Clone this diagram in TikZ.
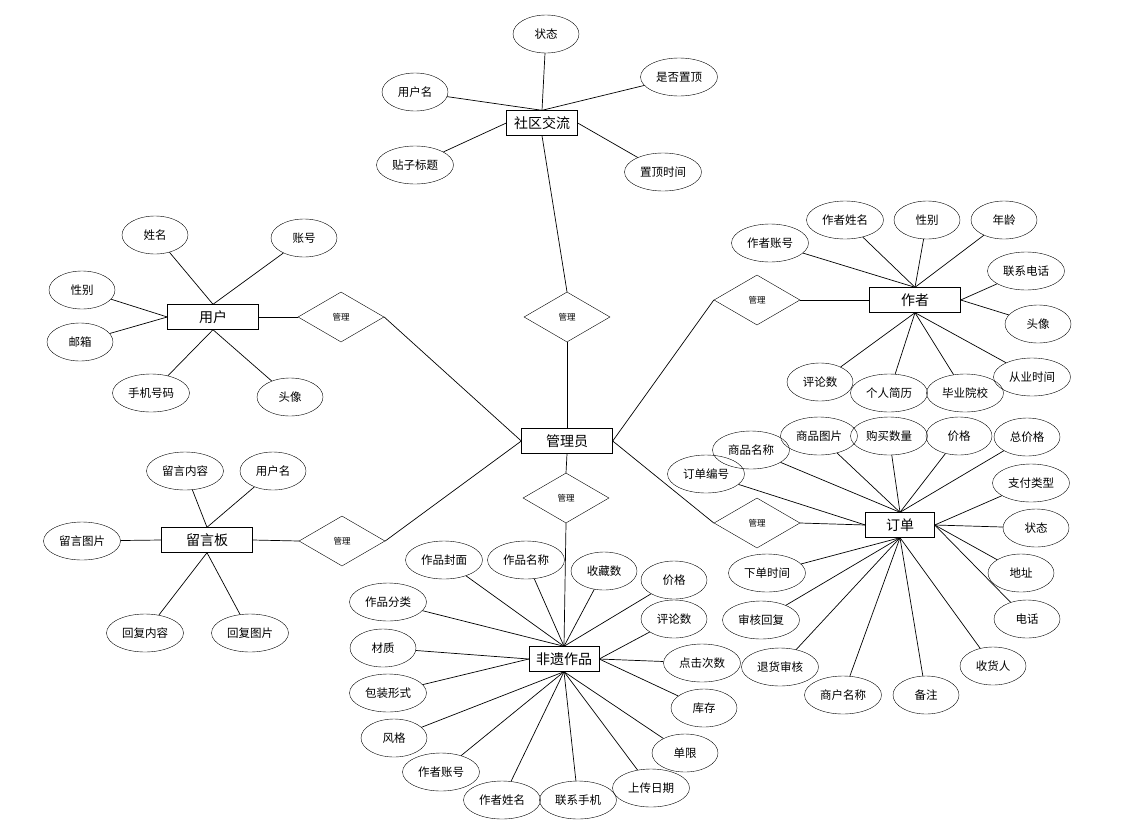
\documentclass[tikz,border=0pt]{standalone}
\usepackage{fontspec}
\newfontfamily\cjk{Noto Sans CJK SC}
\usetikzlibrary{shapes.geometric}

\tikzset{
  attr/.style={ellipse, draw, inner sep=0pt, minimum width=66pt, minimum height=38pt,
    font=\cjk\fontsize{11.5}{13}\selectfont},
  wide/.style={minimum width=77pt},
  ent/.style={rectangle, draw, inner sep=0pt, minimum width=91pt, minimum height=25pt,
    font=\cjk\fontsize{14}{16}\selectfont},
  rel/.style={diamond, draw, inner sep=0pt, minimum width=86pt, minimum height=50pt,
    font=\cjk\fontsize{8.5}{10}\selectfont},
  link/.style={line width=0.7pt},
}

\begin{document}
\begin{tikzpicture}[x=1pt, y=-1pt]
    \useasboundingbox (0,0) rectangle (1134,827);

    % Draw nodes for entities and relations
    \node[ent] (admin) at (567,441) {管理员};
    \node[ent, minimum width=71pt] (post) at (542,123) {社区交流};
    \node[ent] (user) at (213,317) {用户};
    \node[ent] (board) at (207,540) {留言板};
    \node[ent] (author) at (915,300) {作者};
    \node[ent, minimum width=69pt] (order) at (900,525) {订单};
    \node[ent, minimum width=70pt] (work) at (564,659) {非遗作品};

    \node[rel] (mPost) at (567,317) {管理};
    \node[rel] (mUser) at (341,317) {管理};
    \node[rel] (mBoard) at (342,541) {管理};
    \node[rel] (mAuthor) at (757,300) {管理};
    \node[rel] (mOrder) at (757,523) {管理};
    \node[rel] (mWork) at (566,498) {管理};

    % Draw nodes for 社区交流
    \node[attr] (p1) at (415,92) {用户名};
    \node[attr] (p2) at (546,34) {状态};
    \node[attr, wide] (p3) at (679,77) {是否置顶};
    \node[attr, wide] (p4) at (415,165) {贴子标题};
    \node[attr, wide] (p5) at (663,172) {置顶时间};

    % Draw nodes for 用户
    \node[attr] (u1) at (155,235) {姓名};
    \node[attr] (u2) at (304,238) {账号};
    \node[attr] (u3) at (82,290) {性别};
    \node[attr] (u4) at (80,342) {邮箱};
    \node[attr, wide] (u5) at (151,393) {手机号码};
    \node[attr] (u6) at (290,397) {头像};

    % Draw nodes for 留言板
    \node[attr, wide] (b1) at (185,471) {留言内容};
    \node[attr] (b2) at (273,471) {用户名};
    \node[attr, wide] (b3) at (82,541) {留言图片};
    \node[attr, wide] (b4) at (145,633) {回复内容};
    \node[attr, wide] (b5) at (250,633) {回复图片};

    % Draw nodes for 作者
    \node[attr, wide] (a1) at (770,243) {作者账号};
    \node[attr, wide] (a2) at (845,220) {作者姓名};
    \node[attr] (a3) at (927,220) {性别};
    \node[attr] (a4) at (1004,220) {年龄};
    \node[attr, wide] (a5) at (1026,271) {联系电话};
    \node[attr] (a6) at (1038,324) {头像};
    \node[attr] (a7) at (820,382) {评论数};
    \node[attr, wide] (a8) at (889,393) {个人简历};
    \node[attr, wide] (a9) at (965,393) {毕业院校};
    \node[attr, wide] (a10) at (1032,377) {从业时间};

    % Draw nodes for 订单
    \node[attr, wide] (o1) at (706,474) {订单编号};
    \node[attr, wide] (o2) at (751,450) {商品名称};
    \node[attr, wide] (o3) at (819,436) {商品图片};
    \node[attr, wide] (o4) at (889,436) {购买数量};
    \node[attr] (o5) at (959,436) {价格};
    \node[attr] (o6) at (1027,437) {总价格};
    \node[attr, wide] (o7) at (1031,483) {支付类型};
    \node[attr] (o8) at (1036,528) {状态};
    \node[attr] (o9) at (1021,573) {地址};
    \node[attr] (o10) at (1027,619) {电话};
    \node[attr] (o11) at (993,666) {收货人};
    \node[attr] (o12) at (926,695) {备注};
    \node[attr, wide] (o13) at (843,695) {商户名称};
    \node[attr, wide] (o14) at (780,667) {退货审核};
    \node[attr, wide] (o15) at (761,620) {审核回复};
    \node[attr, wide] (o16) at (767,573) {下单时间};

    % Draw nodes for 非遗作品
    \node[attr, wide] (w1) at (444,560) {作品封面};
    \node[attr, wide] (w2) at (526,560) {作品名称};
    \node[attr] (w3) at (604,571) {收藏数};
    \node[attr] (w4) at (674,580) {价格};
    \node[attr] (w5) at (674,619) {评论数};
    \node[attr, wide] (w6) at (702,663) {点击次数};
    \node[attr] (w7) at (704,708) {库存};
    \node[attr] (w8) at (685,753) {单限};
    \node[attr, wide] (w9) at (651,788) {上传日期};
    \node[attr, wide] (w10) at (578,800) {联系手机};
    \node[attr, wide] (w11) at (502,800) {作者姓名};
    \node[attr, wide] (w12) at (441,772) {作者账号};
    \node[attr] (w13) at (394,738) {风格};
    \node[attr, wide] (w14) at (388,693) {包装形式};
    \node[attr] (w15) at (383,648) {材质};
    \node[attr, wide] (w16) at (388,602) {作品分类};

    % Draw edges between entities and relations
    \draw[link] (post.south) -- (mPost.north);
    \draw[link] (mPost.south) -- (admin.north);
    \draw[link] (user.east) -- (mUser.west);
    \draw[link] (mUser.east) -- (admin.west);
    \draw[link] (board.east) -- (mBoard.west);
    \draw[link] (mBoard.east) -- (admin.west);
    \draw[link] (author.west) -- (mAuthor.east);
    \draw[link] (mAuthor.west) -- (admin.east);
    \draw[link] (order.west) -- (mOrder.east);
    \draw[link] (mOrder.west) -- (admin.east);
    \draw[link] (admin.south) -- (mWork.north);
    \draw[link] (mWork.south) -- (work.north);

    % Draw edges for 社区交流
    \draw[link] (p1) -- (post.north);
    \draw[link] (p2) -- (post.north);
    \draw[link] (p3) -- (post.north);
    \draw[link] (p4) -- (post.west);
    \draw[link] (p5) -- (post.east);

    % Draw edges for 用户
    \draw[link] (u1) -- (user.north);
    \draw[link] (u2) -- (user.north);
    \draw[link] (u3) -- (user.west);
    \draw[link] (u4) -- (user.west);
    \draw[link] (u5) -- (user.south);
    \draw[link] (u6) -- (user.south);

    % Draw edges for 留言板
    \draw[link] (b1) -- (board.north);
    \draw[link] (b2) -- (board.north);
    \draw[link] (b3) -- (board.west);
    \draw[link] (b4) -- (board.south);
    \draw[link] (b5) -- (board.south);

    % Draw edges for 作者
    \draw[link] (a1) -- (author.north);
    \draw[link] (a2) -- (author.north);
    \draw[link] (a3) -- (author.north);
    \draw[link] (a4) -- (author.north);
    \draw[link] (a5) -- (author.east);
    \draw[link] (a6) -- (author.east);
    \draw[link] (a7) -- (author.south);
    \draw[link] (a8) -- (author.south);
    \draw[link] (a9) -- (author.south);
    \draw[link] (a10) -- (author.south);

    % Draw edges for 订单
    \draw[link] (o1) -- (order.west);
    \draw[link] (o2) -- (order.north);
    \draw[link] (o3) -- (order.north);
    \draw[link] (o4) -- (order.north);
    \draw[link] (o5) -- (order.north);
    \draw[link] (o6) -- (order.north);
    \draw[link] (o7) -- (order.east);
    \draw[link] (o8) -- (order.east);
    \draw[link] (o9) -- (order.east);
    \draw[link] (o10) -- (order.east);
    \draw[link] (o11) -- (order.south);
    \draw[link] (o12) -- (order.south);
    \draw[link] (o13) -- (order.south);
    \draw[link] (o14) -- (order.south);
    \draw[link] (o15) -- (order.south);
    \draw[link] (o16) -- (order.south);

    % Draw edges for 非遗作品
    \draw[link] (w1) -- (work.north);
    \draw[link] (w2) -- (work.north);
    \draw[link] (w3) -- (work.north);
    \draw[link] (w4) -- (work.north);
    \draw[link] (w16) -- (work.north);
    \draw[link] (w5) -- (work.east);
    \draw[link] (w6) -- (work.east);
    \draw[link] (w7) -- (work.east);
    \draw[link] (w15) -- (work.west);
    \draw[link] (w14) -- (work.west);
    \draw[link] (w8) -- (work.south);
    \draw[link] (w9) -- (work.south);
    \draw[link] (w10) -- (work.south);
    \draw[link] (w11) -- (work.south);
    \draw[link] (w12) -- (work.south);
    \draw[link] (w13) -- (work.south);
\end{tikzpicture}
\end{document}
